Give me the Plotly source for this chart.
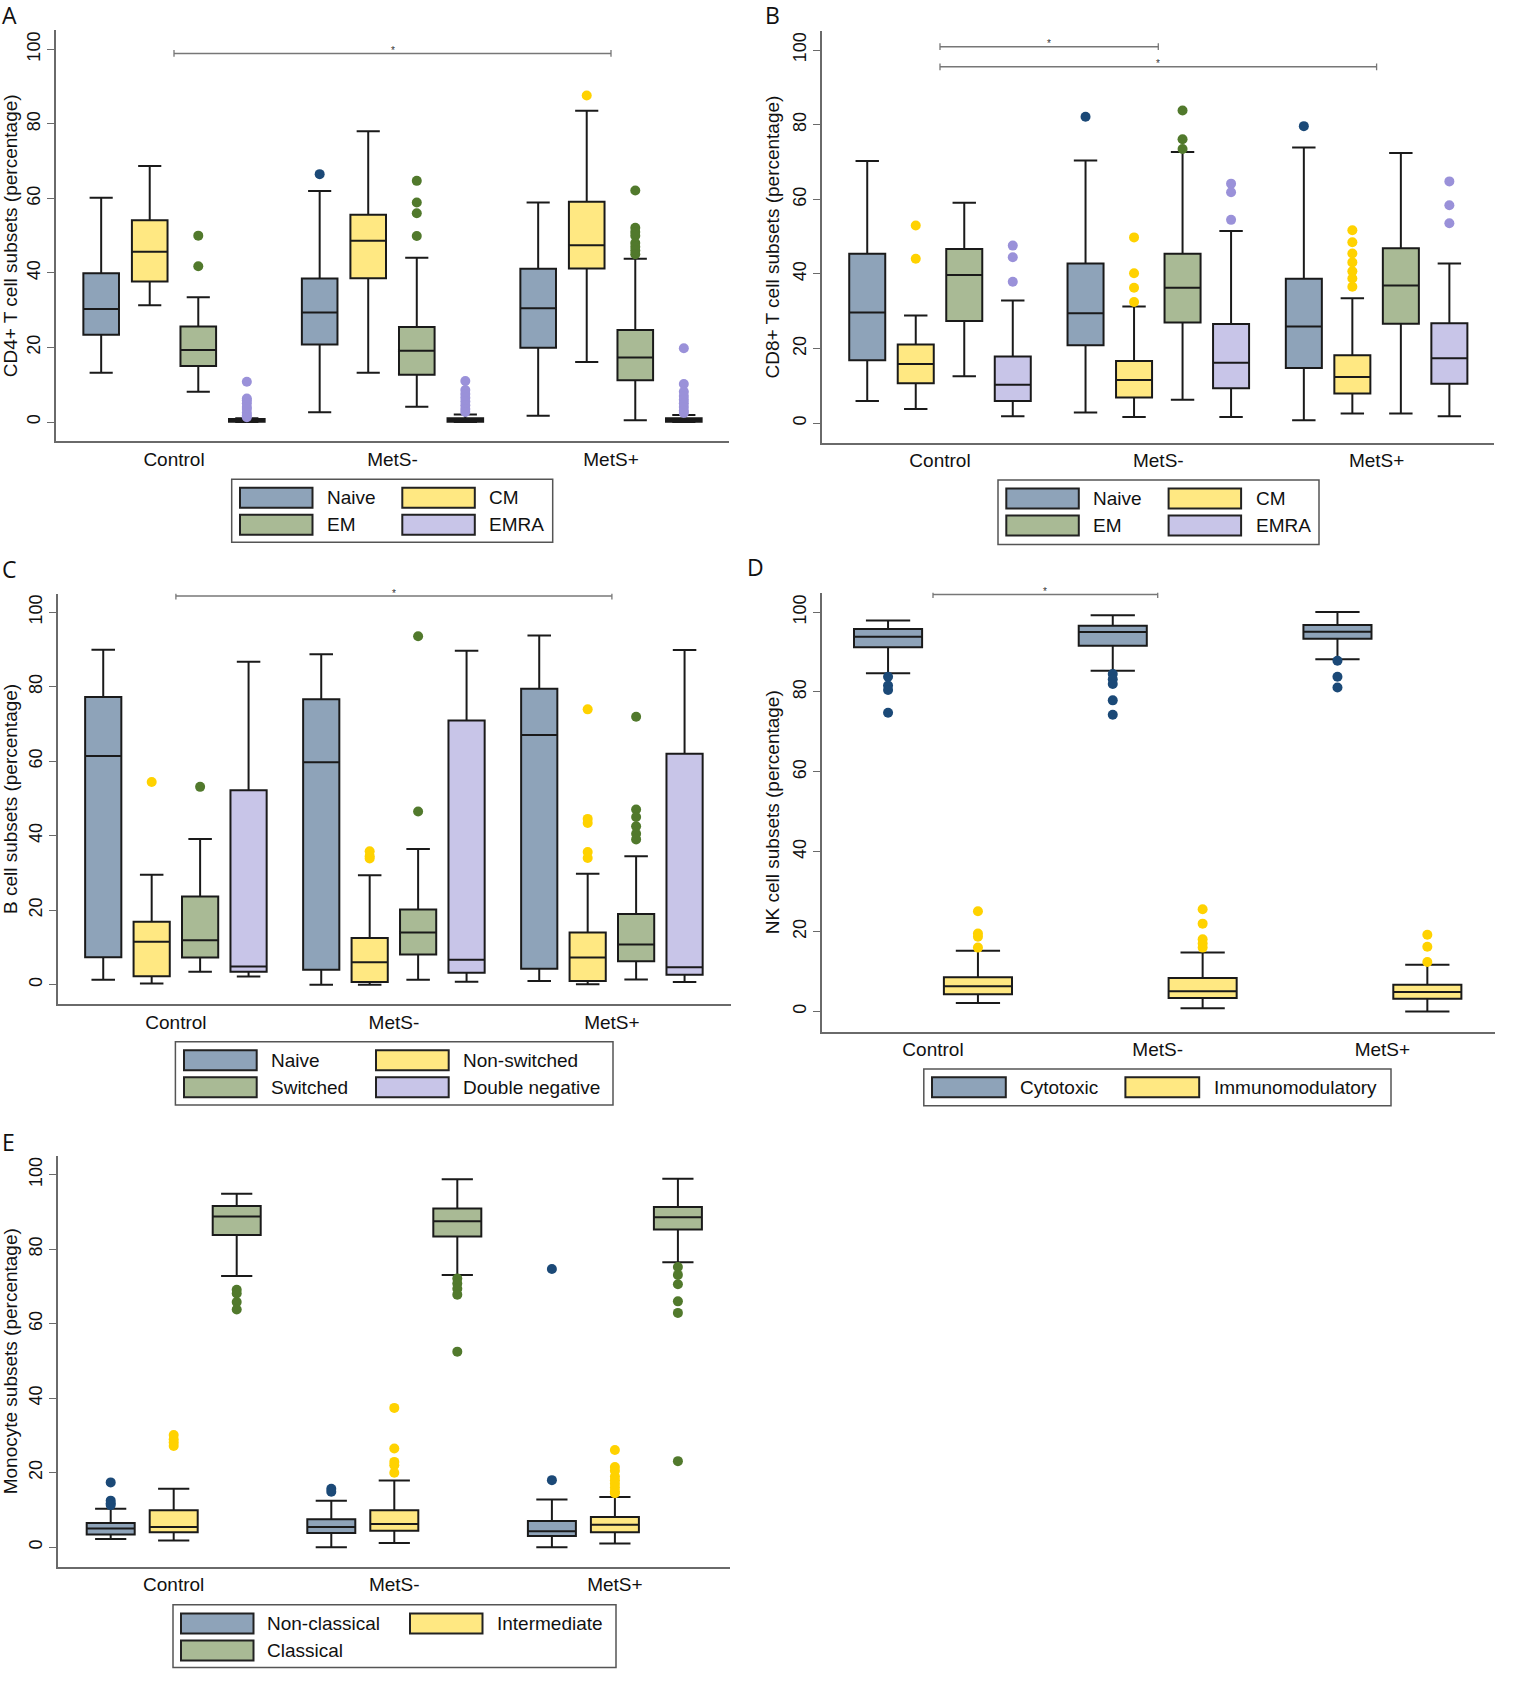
import plotly.graph_objects as go

W, H = 1516, 1696
GROUPS = ["Control", "MetS-", "MetS+"]

# ---------------- Panel A : CD4+ T cells ----------------
A_SERIES = ["Naive", "CM", "EM", "EMRA"]
A_LOW = [[13.2, 2.6, 1.7], [31.3, 13.2, 16.1], [8.1, 4.1, 0.5], [0.0, 0.0, 0.0]]
A_Q1 = [[23.4, 20.8, 19.9], [37.7, 38.6, 41.2], [15.0, 12.7, 11.2], [0.1, 0.1, 0.1]]
A_MED = [[30.3, 29.4, 30.5], [45.7, 48.6, 47.4], [19.3, 19.1, 17.3], [0.4, 0.5, 0.5]]
A_Q3 = [[39.9, 38.5, 41.1], [54.1, 55.6, 59.1], [25.6, 25.5, 24.7], [0.8, 1.0, 1.0]]
A_HIGH = [[60.2, 62.0, 58.9], [68.7, 78.0, 83.5], [33.5, 44.1, 43.8], [1.0, 2.0, 1.9]]
A_OUT = [
    [[], [66.5], []],
    [[], [], [87.6]],
    [[50.0, 41.8], [64.7, 58.9, 56.0, 49.9], [62.1, 52.1, 51.0, 50.0, 48.0, 47.0, 46.0, 45.0]],
    [[10.8, 6.3, 5.8, 5.0, 4.0, 3.5, 2.5, 1.8, 1.3],
     [11.0, 8.6, 7.5, 6.5, 5.5, 4.5, 3.5, 2.7],
     [19.8, 10.2, 8.1, 7.0, 6.0, 5.0, 4.0, 3.0, 2.4]],
]
A_YTITLE = "CD4+ T cell subsets (percentage)"
A_SIG = [(0, 2, 98.9)]

# ---------------- Panel B : CD8+ T cells ----------------
B_SERIES = ["Naive", "CM", "EM", "EMRA"]
B_LOW = [[6.0, 2.9, 0.8], [3.8, 1.7, 2.6], [12.6, 6.3, 2.6], [1.9, 1.7, 1.9]]
B_Q1 = [[16.9, 20.9, 14.8], [10.7, 6.9, 8.0], [27.4, 27.0, 26.7], [6.0, 9.4, 10.6]]
B_MED = [[29.7, 29.5, 25.9], [15.9, 11.6, 12.4], [39.7, 36.3, 36.9], [10.3, 16.2, 17.4]]
B_Q3 = [[45.4, 42.8, 38.7], [21.1, 16.7, 18.2], [46.7, 45.4, 46.9], [17.9, 26.6, 26.8]]
B_HIGH = [[70.3, 70.4, 73.9], [28.9, 31.3, 33.5], [59.1, 72.7, 72.4], [32.9, 51.5, 42.8]]
B_OUT = [
    [[], [82.1], [79.6]],
    [[53.0, 44.1], [49.8, 40.2, 36.3, 32.5], [51.7, 48.5, 45.5, 43.1, 40.7, 38.8, 36.6]],
    [[], [83.8, 76.1, 73.5], []],
    [[47.6, 44.5, 37.9], [64.2, 61.9, 54.5], [64.8, 58.4, 53.6]],
]
B_YTITLE = "CD8+ T cell subsets (percentage)"
B_SIG = [(0, 1, 100.9), (0, 2, 95.5)]

# ---------------- Panel C : B cells ----------------
C_SERIES = ["Naive", "Non-switched", "Switched", "Double negative"]
C_LOW = [[1.3, 0.0, 1.0], [0.3, 0.0, 0.1], [3.5, 1.3, 1.4], [2.2, 0.8, 0.7]]
C_Q1 = [[7.4, 4.0, 4.3], [2.3, 0.7, 1.0], [7.3, 8.1, 6.3], [3.5, 3.2, 2.7]]
C_MED = [[61.4, 59.7, 67.0], [11.5, 6.0, 7.3], [11.9, 14.0, 10.8], [4.9, 6.7, 4.7]]
C_Q3 = [[77.2, 76.6, 79.4], [16.9, 12.5, 14.0], [23.7, 20.2, 19.0], [52.2, 70.9, 62.0]]
C_HIGH = [[89.9, 88.7, 93.7], [29.5, 29.4, 29.8], [39.1, 36.4, 34.5], [86.7, 89.6, 89.8]]
C_OUT = [
    [[], [], []],
    [[54.4], [35.8, 34.5, 33.9], [73.9, 44.5, 43.4, 35.6, 34.0]],
    [[53.1], [93.5, 46.5], [71.9, 47.0, 45.0, 42.5, 40.5, 39.0]],
    [[], [], []],
]
C_YTITLE = "B cell subsets (percentage)"
C_SIG = [(0, 2, 104.3)]

# ---------------- Panel D : NK cells ----------------
D_SERIES = ["Cytotoxic", "Immunomodulatory"]
D_LOW = [[84.7, 85.3, 88.2], [2.1, 0.8, 0.0]]
D_Q1 = [[91.2, 91.6, 93.3], [4.3, 3.4, 3.2]]
D_MED = [[93.8, 95.0, 95.1], [6.3, 5.1, 4.9]]
D_Q3 = [[95.8, 96.6, 96.8], [8.6, 8.4, 6.7]]
D_HIGH = [[97.9, 99.2, 100.0], [15.2, 14.8, 11.7]]
D_OUT = [
    [[83.8, 81.6, 80.5, 74.8], [84.5, 83.2, 82.0, 77.9, 74.3], [87.8, 83.8, 81.1]],
    [[25.1, 19.5, 18.7, 16.0], [25.6, 22.0, 18.1, 17.0, 16.0], [19.2, 16.2, 12.4]],
]
D_YTITLE = "NK cell subsets (percentage)"
D_SIG = [(0, 1, 104.4)]

# ---------------- Panel E : Monocytes ----------------
E_SERIES = ["Non-classical", "Intermediate", "Classical"]
E_LOW = [[2.2, 0.0, 0.0], [1.8, 1.1, 1.0], [72.8, 73.1, 76.5]]
E_Q1 = [[3.4, 3.8, 3.0], [4.0, 4.4, 4.0], [83.8, 83.4, 85.3]]
E_MED = [[5.0, 5.4, 4.3], [5.4, 6.2, 6.0], [88.8, 87.5, 88.6]]
E_Q3 = [[6.5, 7.5, 7.0], [9.9, 9.9, 8.1], [91.6, 90.9, 91.3]]
E_HIGH = [[10.3, 12.5, 12.8], [15.7, 17.9, 13.5], [94.9, 98.8, 98.9]]
E_OUT = [
    [[17.4, 12.5, 11.8, 11.3], [15.7, 14.9], [74.7, 18.0]],
    [[30.1, 29.0, 28.1, 27.2], [37.4, 26.5, 22.9, 22.0, 20.0],
     [26.1, 21.5, 20.5, 19.0, 18.0, 17.0, 16.0, 15.0, 14.5]],
    [[69.1, 68.1, 65.8, 63.8], [72.1, 70.8, 69.4, 67.8, 52.5],
     [75.2, 73.1, 70.6, 66.0, 62.9, 23.1]],
]
E_YTITLE = "Monocyte subsets (percentage)"
E_SIG = []

Y_TICKS = [0, 20, 40, 60, 80, 100]

# ---------------- styling ----------------
FILL = ["#8EA3B9", "#FFE882", "#A9BA95", "#C8C5E8"]
DOT = ["#1B4977", "#FFD200", "#51792C", "#9A91D9"]
LINE = "#1A1A1A"
AXIS = "#6A6A6A"
FONT = "Liberation Sans"
LETTER_FONT = "Open Sans"

panels = [
    dict(name="A", series=A_SERIES, low=A_LOW, q1=A_Q1, med=A_MED, q3=A_Q3, high=A_HIGH,
         out=A_OUT, ytitle=A_YTITLE, sig=A_SIG,
         cx=174.0, unit=218.5, xr=(-0.54, 2.54), p0=422.0, s=3.727, yr=(-5.2, 105.1),
         offsets=(-1 / 3, -1 / 9, 1 / 9, 1 / 3), bw=0.163, letter=(9, 15),
         legend=dict(box=(231.7, 479.3, 552.7, 542.3), cols=((240.0, 325.0), (402.3, 487.3)),
                     rows=(487.7, 514.7), sw=72.5)),
    dict(name="B", series=B_SERIES, low=B_LOW, q1=B_Q1, med=B_MED, q3=B_Q3, high=B_HIGH,
         out=B_OUT, ytitle=B_YTITLE, sig=B_SIG,
         cx=940.0, unit=218.3, xr=(-0.54, 2.54), p0=423.3, s=3.733, yr=(-5.2, 105.0),
         offsets=(-1 / 3, -1 / 9, 1 / 9, 1 / 3), bw=0.165, letter=(773, 15),
         legend=dict(box=(998.0, 480.0, 1319.0, 544.6), cols=((1006.3, 1091.3), (1168.6, 1253.6)),
                     rows=(488.4, 515.4), sw=72.5)),
    dict(name="C", series=C_SERIES, low=C_LOW, q1=C_Q1, med=C_MED, q3=C_Q3, high=C_HIGH,
         out=C_OUT, ytitle=C_YTITLE, sig=C_SIG,
         cx=175.9, unit=218.0, xr=(-0.54, 2.545), p0=984.7, s=3.726, yr=(-5.2, 104.9),
         offsets=(-1 / 3, -1 / 9, 1 / 9, 1 / 3), bw=0.166, letter=(9, 569),
         legend=dict(box=(175.4, 1041.8, 613.0, 1105.0), cols=((184.0, 269.0), (376.0, 461.0)),
                     rows=(1050.3, 1077.3), sw=72.7)),
    dict(name="D", series=D_SERIES, low=D_LOW, q1=D_Q1, med=D_MED, q3=D_Q3, high=D_HIGH,
         out=D_OUT, ytitle=D_YTITLE, sig=D_SIG,
         cx=933.0, unit=224.7, xr=(-0.494, 2.5), p0=1011.5, s=3.994, yr=(-5.06, 104.86),
         offsets=(-0.2, 0.2), bw=0.303, letter=(755, 567),
         legend=dict(box=(923.8, 1069.0, 1391.0, 1105.7), cols=((932.0, 1018.0), (1125.4, 1211.8)),
                     rows=(1077.3,), sw=73.8)),
    dict(name="E", series=E_SERIES, low=E_LOW, q1=E_Q1, med=E_MED, q3=E_Q3, high=E_HIGH,
         out=E_OUT, ytitle=E_YTITLE, sig=E_SIG,
         cx=173.7, unit=220.6, xr=(-0.524, 2.52), p0=1547.2, s=3.725, yr=(-5.23, 105.07),
         offsets=(-0.2856, 0.0, 0.2856), bw=0.2176, letter=(8, 1142),
         legend=dict(box=(173.0, 1604.7, 616.0, 1667.5), cols=((181.0, 265.0), (410.0, 495.0)),
                     rows=(1613.5, 1640.5), sw=72.5)),
]


def px_x(px):
    return px / W


def px_y(py):
    return 1 - py / H


fig = go.Figure()
shapes = []
annotations = []
layout_axes = {}

for i, p in enumerate(panels, start=1):
    sfx = "" if i == 1 else str(i)
    xref, yref = "x" + sfx, "y" + sfx
    left = p["cx"] + p["xr"][0] * p["unit"]
    right = p["cx"] + p["xr"][1] * p["unit"]
    top = p["p0"] - p["yr"][1] * p["s"]
    bottom = p["p0"] - p["yr"][0] * p["s"]

    layout_axes["xaxis" + sfx] = dict(
        domain=[px_x(left), px_x(right)], anchor=yref, range=list(p["xr"]),
        tickvals=[0, 1, 2], ticktext=GROUPS, ticks="", showgrid=False, zeroline=False,
        showline=True, linecolor=AXIS, linewidth=1.6,
        tickfont=dict(family=FONT, size=19, color="#111111"), fixedrange=True)
    layout_axes["yaxis" + sfx] = dict(
        domain=[px_y(bottom), px_y(top)], anchor=xref, range=list(p["yr"]),
        tickvals=Y_TICKS, tickangle=-90, ticks="outside", ticklen=7, tickwidth=1.4,
        tickcolor=AXIS, showgrid=False, zeroline=False, showline=True, linecolor=AXIS,
        linewidth=1.6, tickfont=dict(family=FONT, size=18, color="#111111"),
        title=dict(text=p["ytitle"], font=dict(family=FONT, size=19, color="#111111"), standoff=5),
        fixedrange=True)

    for k, name in enumerate(p["series"]):
        xs = [g + p["offsets"][k] for g in range(3)]
        fig.add_trace(go.Box(
            x=xs, q1=p["q1"][k], median=p["med"][k], q3=p["q3"][k],
            lowerfence=p["low"][k], upperfence=p["high"][k], width=p["bw"],
            fillcolor=FILL[k], line=dict(color=LINE, width=2), whiskerwidth=0.65,
            boxpoints=False, name=name, showlegend=False, xaxis=xref, yaxis=yref))
        ox, oy = [], []
        for g in range(3):
            ox += [xs[g]] * len(p["out"][k][g])
            oy += list(p["out"][k][g])
        fig.add_trace(go.Scatter(
            x=ox, y=oy, mode="markers", name=name + " outliers", showlegend=False,
            marker=dict(color=DOT[k], size=10, line=dict(width=0)), xaxis=xref, yaxis=yref))

    # significance brackets
    for (g0, g1, level) in p["sig"]:
        shapes.append(dict(type="line", xref=xref, yref=yref, x0=g0, x1=g1, y0=level, y1=level,
                           line=dict(color="#777777", width=1.5)))
        for gx in (g0, g1):
            shapes.append(dict(type="line", xref=xref, yref=yref, x0=gx, x1=gx,
                               y0=level - 0.9, y1=level + 0.9, line=dict(color="#777777", width=1.3)))
        annotations.append(dict(text="*", xref=xref, yref=yref, x=(g0 + g1) / 2, y=level,
                                yshift=3, showarrow=False, yanchor="middle",
                                font=dict(family=FONT, size=10, color="#333333")))

    # panel letter
    lx, ly = p["letter"]
    annotations.append(dict(text=p["name"], xref="paper", yref="paper", x=px_x(lx), y=px_y(ly),
                            xanchor="center", yanchor="middle", showarrow=False,
                            font=dict(family=LETTER_FONT, size=23, color="#111111")))

    # legend box
    lg = p["legend"]
    bx0, by0, bx1, by1 = lg["box"]
    shapes.append(dict(type="rect", xref="paper", yref="paper", x0=px_x(bx0), x1=px_x(bx1),
                       y0=px_y(by1), y1=px_y(by0), fillcolor="white",
                       line=dict(color="#555555", width=1.5)))
    for k, name in enumerate(p["series"]):
        row, col = divmod(k, 2)
        sx, tx = lg["cols"][col]
        ry = lg["rows"][row]
        shapes.append(dict(type="rect", xref="paper", yref="paper", x0=px_x(sx), x1=px_x(sx + lg["sw"]),
                           y0=px_y(ry + 20), y1=px_y(ry), fillcolor=FILL[k],
                           line=dict(color="#222222", width=2)))
        annotations.append(dict(text=name, xref="paper", yref="paper", x=px_x(tx), y=px_y(ry + 10),
                                xanchor="left", yanchor="middle", showarrow=False,
                                font=dict(family=FONT, size=19, color="#111111")))

fig.update_layout(**layout_axes)
fig.update_layout(
    width=W, height=H, margin=dict(l=0, r=0, t=0, b=0),
    paper_bgcolor="white", plot_bgcolor="white", showlegend=False,
    shapes=shapes, annotations=annotations,
    font=dict(family=FONT, color="#111111"),
)

fig.write_html("out.html", config={"displayModeBar": False},
               post_script="document.body.style.margin='0';")
